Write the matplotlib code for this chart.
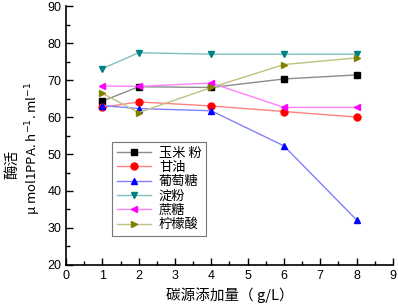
import matplotlib
matplotlib.use("Agg")
import matplotlib.pyplot as plt
from matplotlib.ticker import MultipleLocator

plt.rcParams['font.family'] = ['Liberation Sans', 'Noto Sans CJK SC', 'DejaVu Sans']
cjk = ['Noto Sans CJK SC', 'DejaVu Sans']

# dosage (g/L)
x = [1, 2, 4, 6, 8]

corn = [64.3, 68.2, 68.0, 70.3, 71.4]
glycerol = [62.6, 64.1, 63.0, 61.5, 60.0]
glucose = [63.1, 62.3, 61.7, 52.2, 32.2]
starch = [73.1, 77.4, 77.0, 77.0, 77.0]
sucrose = [68.4, 68.3, 69.2, 62.6, 62.6]
citric = [66.4, 61.2, 68.0, 74.2, 76.0]

names = ['玉米 粉', '甘油', '葡萄糖', '淀粉', '蔗糖', '柠檬酸']
series = [corn, glycerol, glucose, starch, sucrose, citric]
markers = ['s', 'o', '^', 'v', '<', '>']
mcolors = ['#000000', '#ff0000', '#0000ff', '#008080', '#ff00ff', '#808000']
lcolors = ['#8c8c8c', '#ff8080', '#8080ff', '#80c0c0', '#ff80ff', '#c0c080']

fig = plt.figure(figsize=(3.98, 3.07), dpi=100)
ax = fig.add_axes([0.166, 0.137, 0.821, 0.843])

for y, n, m, mc, lc in zip(series, names, markers, mcolors, lcolors):
    ax.plot(x, y, color=lc, lw=1.0, marker=m, markersize=5,
            markerfacecolor=mc, markeredgecolor=mc, label=n)

ax.set_xlim(0, 9)
ax.set_ylim(20, 90)
ax.xaxis.set_major_locator(MultipleLocator(1))
ax.xaxis.set_minor_locator(MultipleLocator(0.5))
ax.yaxis.set_major_locator(MultipleLocator(10))
ax.yaxis.set_minor_locator(MultipleLocator(5))
ax.tick_params(which='both', direction='in', labelsize=9, width=1)
ax.tick_params(which='major', length=5)
ax.tick_params(which='minor', length=3)
ax.spines['top'].set_visible(False)
ax.spines['right'].set_visible(False)
ax.spines['left'].set_linewidth(1.2)
ax.spines['bottom'].set_linewidth(1.2)

ax.set_xlabel('碳源添加量（ g/L）', fontsize=10.5, family=cjk, labelpad=4)
fig.text(0.030, 0.463, '酶活', rotation=90, ha='center', va='center',
         fontsize=10.5, family=cjk)
fig.text(0.083, 0.518, 'μ mol1PPA. h$^{-1}$. ml$^{-1}$', rotation=90,
         ha='center', va='center', fontsize=9.5, family=cjk)

leg = ax.legend(loc='lower left', bbox_to_anchor=(0.141, 0.112),
                prop={'family': cjk, 'size': 9.5},
                fancybox=False, edgecolor='#555555', handlelength=2.6,
                labelspacing=0.1, borderpad=0.35, handletextpad=0.6,
                borderaxespad=0)
leg.get_frame().set_linewidth(0.8)

fig.savefig('out.png', dpi=100)
